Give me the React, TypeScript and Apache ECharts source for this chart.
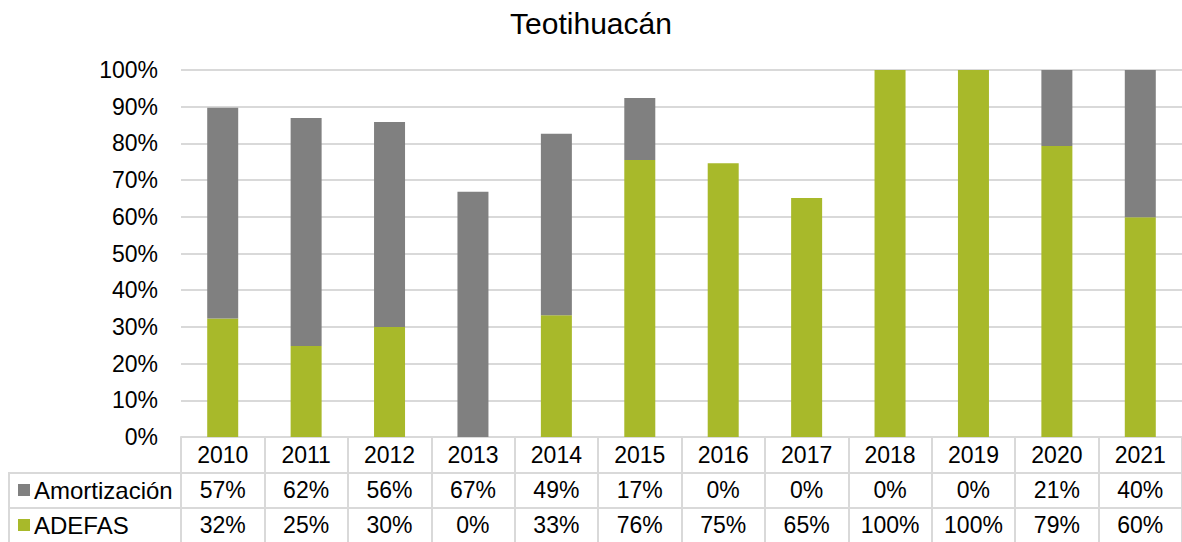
import React, { useEffect, useRef } from "react";
import * as echarts from "echarts";

const years = ["2010", "2011", "2012", "2013", "2014", "2015", "2016", "2017", "2018", "2019", "2020", "2021"];
const adefas = [32.3, 24.8, 30.0, 0, 33.2, 75.5, 74.6, 65.1, 100, 100, 79.3, 59.9];
const amortizacion = [57.4, 62.1, 55.8, 66.8, 49.4, 16.9, 0, 0, 0, 0, 20.7, 40.1];
const amortLabels = ["57%", "62%", "56%", "67%", "49%", "17%", "0%", "0%", "0%", "0%", "21%", "40%"];
const adefasLabels = ["32%", "25%", "30%", "0%", "33%", "76%", "75%", "65%", "100%", "100%", "79%", "60%"];
const yTicks = [0, 10, 20, 30, 40, 50, 60, 70, 80, 90, 100];

const GRAY = "#808080";
const GREEN = "#a8b92a";
const LINE = "#d9d9d9";
const FONT = "'Liberation Sans', Arial, sans-serif";

export default function App() {
  const ref = useRef<HTMLDivElement>(null);
  useEffect(() => {
    if (!ref.current) return;
    const chart = echarts.init(ref.current, undefined, { renderer: "svg" });
    const left = 181;
    const axisY = 437;
    const rowH = 35;
    const tableAxis = (data: string[], offset: number, show: boolean) => ({
      type: "category",
      data,
      position: "bottom",
      offset,
      axisLine: { show },
      axisTick: { show: false },
      axisLabel: { color: "#000", fontSize: 23, fontFamily: FONT, margin: 6, interval: 0 },
      splitLine: { show: false },
    });
    chart.setOption({
      animation: false,
      textStyle: { fontFamily: FONT },
      title: {
        text: "Teotihuacán",
        left: "center",
        top: 3,
        textStyle: { color: "#000", fontSize: 30, fontWeight: "normal", fontFamily: FONT },
      },
      grid: { left, right: 0, top: 70, bottom: 542 - axisY, containLabel: false },
      xAxis: [
        {
          type: "category",
          data: years,
          position: "bottom",
          axisLine: { show: true, lineStyle: { color: LINE, width: 2 } },
          axisTick: { show: true, length: 105, lineStyle: { color: LINE, width: 2 } },
          axisLabel: { color: "#000", fontSize: 23, fontFamily: FONT, margin: 6, interval: 0 },
        },
        tableAxis(amortLabels, rowH, false),
        tableAxis(adefasLabels, rowH * 2, false),
      ],
      yAxis: {
        type: "value",
        min: 0,
        max: 100,
        interval: 10,
        axisLine: { show: false },
        axisTick: { show: false },
        splitLine: { lineStyle: { color: LINE, width: 2 } },
        axisLabel: {
          color: "#000",
          fontSize: 23,
          fontFamily: FONT,
          margin: 23,
          formatter: (v: number) => (yTicks.includes(v) ? v + "%" : ""),
        },
      },
      series: [
        {
          name: "ADEFAS",
          type: "bar",
          stack: "total",
          data: adefas,
          barWidth: 31,
          itemStyle: { color: GREEN },
        },
        {
          name: "Amortización",
          type: "bar",
          stack: "total",
          data: amortizacion,
          barWidth: 31,
          itemStyle: { color: GRAY },
        },
      ],
      graphic: [
        { type: "line", shape: { x1: 8, y1: axisY + rowH + 1, x2: 1182, y2: axisY + rowH + 1 }, style: { stroke: LINE, lineWidth: 2 } },
        { type: "line", shape: { x1: 8, y1: axisY + rowH * 2 + 1, x2: 1182, y2: axisY + rowH * 2 + 1 }, style: { stroke: LINE, lineWidth: 2 } },
        { type: "line", shape: { x1: 9, y1: axisY + rowH + 1, x2: 9, y2: 542 }, style: { stroke: LINE, lineWidth: 2 } },
        { type: "rect", shape: { x: 18, y: 484, width: 12, height: 12 }, style: { fill: GRAY } },
        { type: "rect", shape: { x: 18, y: 519, width: 12, height: 12 }, style: { fill: GREEN } },
        { type: "text", x: 34, y: 490, style: { text: "Amortización", fill: "#000", fontSize: 24, fontFamily: FONT, verticalAlign: "middle" } },
        { type: "text", x: 34, y: 525, style: { text: "ADEFAS", fill: "#000", fontSize: 24, fontFamily: FONT, verticalAlign: "middle" } },
      ],
    });
    return () => chart.dispose();
  }, []);
  return (
    <div
      ref={ref}
      style={{ position: "fixed", left: 0, top: 0, width: 1182, height: 542, background: "#fff" }}
    />
  );
}
